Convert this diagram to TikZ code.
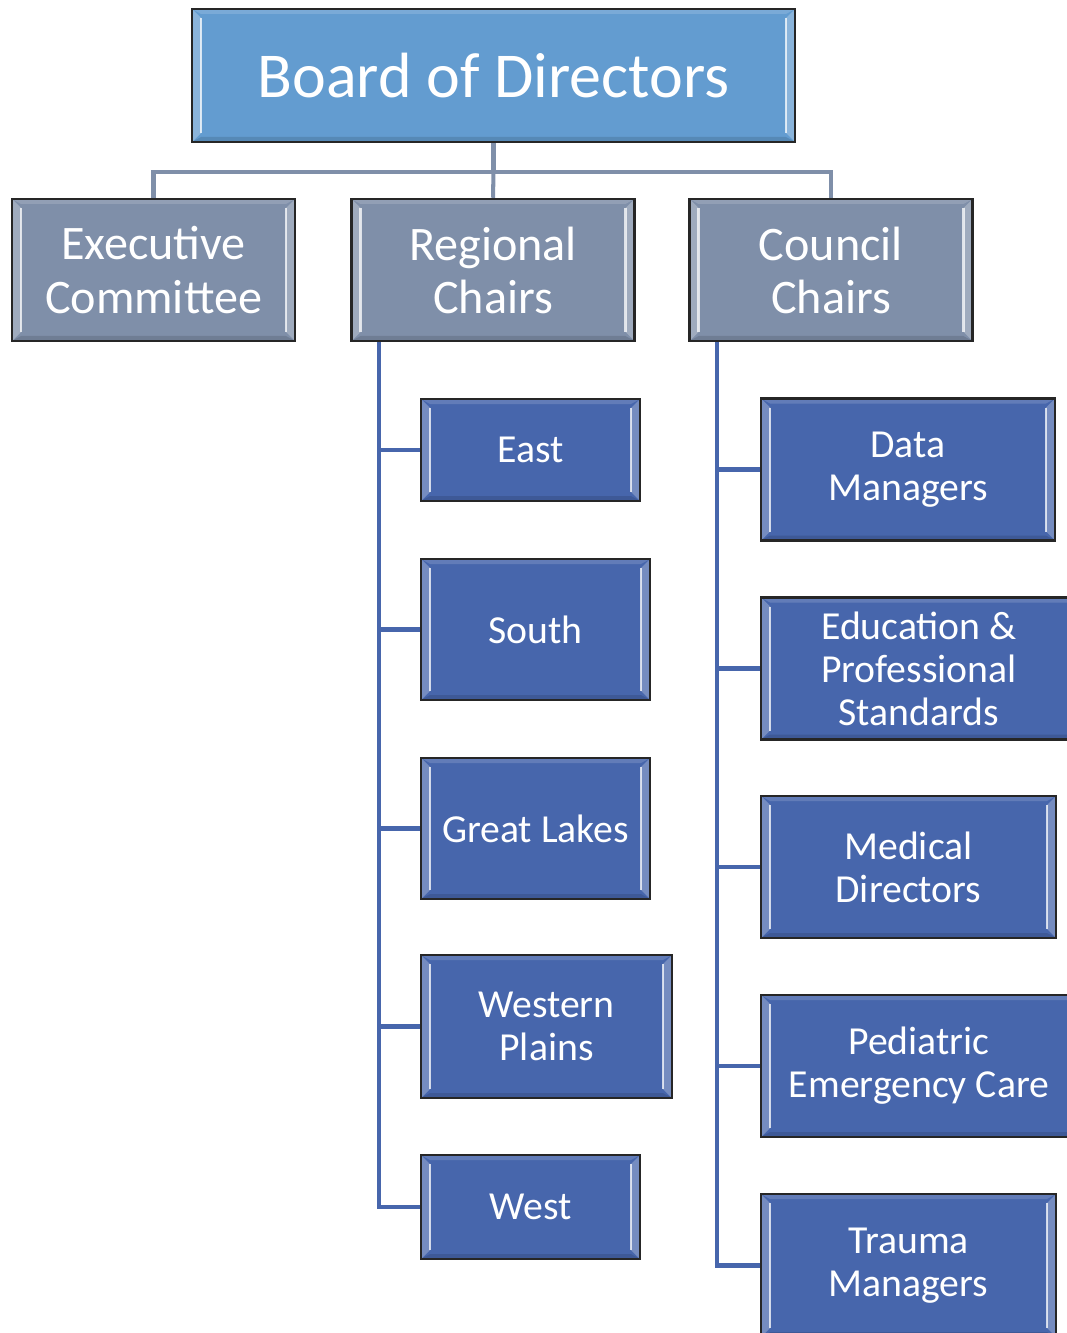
\documentclass[tikz,border=0pt]{standalone}
\usepackage{fontspec}
\setmainfont{Carlito}
\usetikzlibrary{calc}

\definecolor{boardblue}{HTML}{639CD0}
\definecolor{chairgray}{HTML}{7F8FA9}
\definecolor{unitblue}{HTML}{4766AC}

\tikzset{
  bevel/.style={path picture={
      \coordinate (bnw) at (path picture bounding box.north west);
      \coordinate (bne) at (path picture bounding box.north east);
      \coordinate (bsw) at (path picture bounding box.south west);
      \coordinate (bse) at (path picture bounding box.south east);
      \fill[white, opacity=0.15] (bnw) -- (bne) -- ($(bne)+(-0.9mm,-0.5mm)$) -- ($(bnw)+(0.9mm,-0.5mm)$) -- cycle;
      \fill[black, opacity=0.12] (bsw) -- (bse) -- ($(bse)+(-0.9mm,0.5mm)$) -- ($(bsw)+(0.9mm,0.5mm)$) -- cycle;
      \fill[white, opacity=0.25] (bnw) -- ($(bnw)+(0.9mm,-0.9mm)$) -- ($(bsw)+(0.9mm,0.9mm)$) -- (bsw) -- cycle;
      \fill[white, opacity=0.25] (bne) -- ($(bne)+(-0.9mm,-0.9mm)$) -- ($(bse)+(-0.9mm,0.9mm)$) -- (bse) -- cycle;
      \draw[white, opacity=0.75, line width=0.6pt] ($(bnw)+(0.9mm,-0.9mm)$) -- ($(bsw)+(0.9mm,0.9mm)$);
      \draw[white, opacity=0.75, line width=0.6pt] ($(bne)+(-0.9mm,-0.9mm)$) -- ($(bse)+(-0.9mm,0.9mm)$);
    }},
  box/.style={draw=black!85, line width=0.7pt, text=white, align=center, inner sep=0pt, bevel},
  topbox/.style={box, fill=boardblue, minimum width=60.3mm, minimum height=13.3mm,
    font=\fontsize{18.2}{21}\selectfont},
  chairbox/.style={box, fill=chairgray, minimum width=28.3mm, minimum height=14.2mm,
    font=\fontsize{13.7}{15.1}\selectfont},
  unitbox/.style={box, fill=unitblue, minimum height=14.2mm,
    font=\fontsize{11.3}{12.2}\selectfont},
  graylink/.style={draw=chairgray, line width=1.15pt},
  bluelink/.style={draw=unitblue, line width=1.15pt},
}

\begin{document}
\begin{tikzpicture}[x=0.1mm, y=-0.1mm]
  \useasboundingbox (0,0) rectangle (1066,1333);

  % top levels
  \node[topbox] (board) at (493.5,75.5) {Board of Directors};
  \node[chairbox] (exec) at (153.5,270) {Executive\\Committee};
  \node[chairbox] (regional) at (493,270) {Regional\\Chairs};
  \node[chairbox] (council) at (831,270) {Council\\Chairs};

  \draw[graylink] (board.south) -- ++(0,29) coordinate (bus);
  \draw[graylink] (bus) -| (exec.north);
  \draw[graylink] (bus) -- (regional.north);
  \draw[graylink] (bus) -| (council.north);

  % regional chairs
  \node[unitbox, minimum width=21.9mm, minimum height=10.2mm] (east) at (530.5,450) {East};
  \node[unitbox, minimum width=22.9mm, minimum height=14.1mm] (south) at (535.5,629.5) {South};
  \node[unitbox, minimum width=22.9mm, minimum height=14.1mm] (lakes) at (535.5,828.5) {Great Lakes};
  \node[unitbox, minimum width=25.1mm, minimum height=14.3mm] (plains) at (546.5,1026.5) {Western\\Plains};
  \node[unitbox, minimum width=21.9mm, minimum height=10.4mm] (west) at (530.5,1207) {West};

  \foreach \unit in {east, south, lakes, plains, west}
    \draw[bluelink] ([xshift=2.9mm]regional.south west) |- (\unit.west);

  % council chairs
  \node[unitbox, minimum width=29.4mm] (data) at (908,469.5) {Data\\Managers};
  \node[unitbox, minimum width=31.6mm] (edu) at (919,668.5) {Education \&\\Professional\\Standards};
  \node[unitbox, minimum width=29.5mm] (medical) at (908.5,867) {Medical\\Directors};
  \node[unitbox, minimum width=31.6mm] (pediatric) at (919,1066) {Pediatric\\Emergency Care};
  \node[unitbox, minimum width=29.5mm, minimum height=14.3mm] (trauma) at (908.5,1265.5) {Trauma\\Managers};

  \foreach \unit in {data, edu, medical, pediatric, trauma}
    \draw[bluelink] ([xshift=2.9mm]council.south west) |- (\unit.west);
\end{tikzpicture}
\end{document}
